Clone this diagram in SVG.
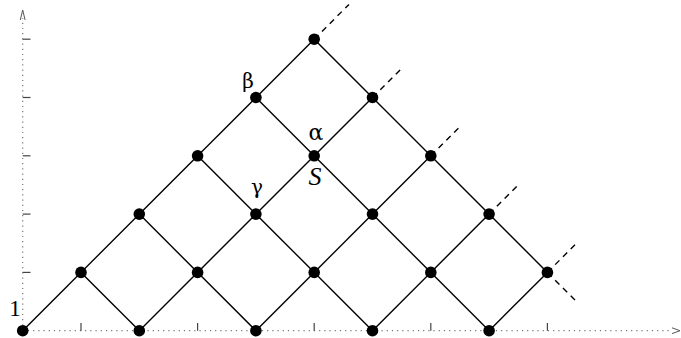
<svg xmlns="http://www.w3.org/2000/svg" width="681" height="338" viewBox="0 0 681 338">
<style>
.axis{stroke:#777;stroke-width:1.2;stroke-dasharray:1.2,4;fill:none}
.tick{stroke:#444;stroke-width:1.2;fill:none}
.arr{stroke:#555;stroke-width:1;fill:none}
.edge{stroke:#000;stroke-width:1.4;fill:none}
.dash{stroke:#000;stroke-width:1.4;fill:none;stroke-dasharray:6,5}
.node{fill:#000}
.lbl{font-family:"Liberation Serif","DejaVu Serif",serif;fill:#000}
.gr{font-family:"DejaVu Serif",serif;fill:#000}
</style>
<rect width="681" height="338" fill="#fff"/>
<g id="axes">
<line class="axis" x1="22.7" y1="330.7" x2="22.7" y2="18"/>
<line class="axis" x1="22.7" y1="330.7" x2="672" y2="330.7"/>
<polyline class="arr" points="20.3,20 22.7,10 25.1,20"/>
<polyline class="arr" points="672,327.8 680,330.7 672,333.6"/>
<g class="tick">
<line x1="22.7" y1="39.2" x2="30.5" y2="39.2"/>
<line x1="22.7" y1="97.5" x2="30.5" y2="97.5"/>
<line x1="22.7" y1="155.8" x2="30.5" y2="155.8"/>
<line x1="22.7" y1="214.1" x2="30.5" y2="214.1"/>
<line x1="22.7" y1="272.4" x2="30.5" y2="272.4"/>
<line x1="81" y1="323" x2="81" y2="330.7"/>
<line x1="197.6" y1="323" x2="197.6" y2="330.7"/>
<line x1="314.2" y1="323" x2="314.2" y2="330.7"/>
<line x1="430.8" y1="323" x2="430.8" y2="330.7"/>
<line x1="547.4" y1="323" x2="547.4" y2="330.7"/>
</g>
</g>
<g id="connectors">
<line class="edge" x1="22.7" y1="330.7" x2="314.2" y2="39.2"/>
<line class="edge" x1="139.3" y1="330.7" x2="372.5" y2="97.5"/>
<line class="edge" x1="255.9" y1="330.7" x2="430.8" y2="155.8"/>
<line class="edge" x1="372.5" y1="330.7" x2="489.1" y2="214.1"/>
<line class="edge" x1="489.1" y1="330.7" x2="547.4" y2="272.4"/>
<line class="edge" x1="314.2" y1="39.2" x2="547.4" y2="272.4"/>
<line class="edge" x1="255.9" y1="97.5" x2="489.1" y2="330.7"/>
<line class="edge" x1="197.6" y1="155.8" x2="372.5" y2="330.7"/>
<line class="edge" x1="139.3" y1="214.1" x2="255.9" y2="330.7"/>
<line class="edge" x1="81" y1="272.4" x2="139.3" y2="330.7"/>
<line class="dash" x1="314.2" y1="39.2" x2="349" y2="4.4"/>
<line class="dash" x1="372.5" y1="97.5" x2="403.5" y2="66.5"/>
<line class="dash" x1="430.8" y1="155.8" x2="461.8" y2="124.8"/>
<line class="dash" x1="489.1" y1="214.1" x2="520.1" y2="183.1"/>
<line class="dash" x1="547.4" y1="272.4" x2="578.4" y2="241.4"/>
<line class="dash" x1="547.4" y1="272.4" x2="578.4" y2="303.4"/>
</g>
<g id="nodes">
<circle id="n00" class="node" cx="22.7" cy="330.7" r="5.8"/>
<circle id="n20" class="node" cx="139.3" cy="330.7" r="5.8"/>
<circle id="n40" class="node" cx="255.9" cy="330.7" r="5.8"/>
<circle id="n60" class="node" cx="372.5" cy="330.7" r="5.8"/>
<circle id="n80" class="node" cx="489.1" cy="330.7" r="5.8"/>
<circle id="n11" class="node" cx="81" cy="272.4" r="5.8"/>
<circle id="n31" class="node" cx="197.6" cy="272.4" r="5.8"/>
<circle id="n51" class="node" cx="314.2" cy="272.4" r="5.8"/>
<circle id="n71" class="node" cx="430.8" cy="272.4" r="5.8"/>
<circle id="n91" class="node" cx="547.4" cy="272.4" r="5.8"/>
<circle id="n22" class="node" cx="139.3" cy="214.1" r="5.8"/>
<circle id="n42" class="node" cx="255.9" cy="214.1" r="5.8"/>
<circle id="n62" class="node" cx="372.5" cy="214.1" r="5.8"/>
<circle id="n82" class="node" cx="489.1" cy="214.1" r="5.8"/>
<circle id="n33" class="node" cx="197.6" cy="155.8" r="5.8"/>
<circle id="n53" class="node" cx="314.2" cy="155.8" r="5.8"/>
<circle id="n73" class="node" cx="430.8" cy="155.8" r="5.8"/>
<circle id="n44" class="node" cx="255.9" cy="97.5" r="5.8"/>
<circle id="n64" class="node" cx="372.5" cy="97.5" r="5.8"/>
<circle id="n55" class="node" cx="314.2" cy="39.2" r="5.8"/>
</g>
<g id="labels">
<text class="lbl" x="15" y="316" font-size="23" text-anchor="middle">1</text>
<text class="gr" x="248" y="88" font-size="20" text-anchor="middle">β</text>
<text class="gr" x="316" y="140" font-size="22" text-anchor="middle">α</text>
<text class="lbl" x="315" y="185" font-size="26" font-style="italic" text-anchor="middle">S</text>
<text class="gr" x="257" y="194" font-size="20" text-anchor="middle">γ</text>
</g>
</svg>
